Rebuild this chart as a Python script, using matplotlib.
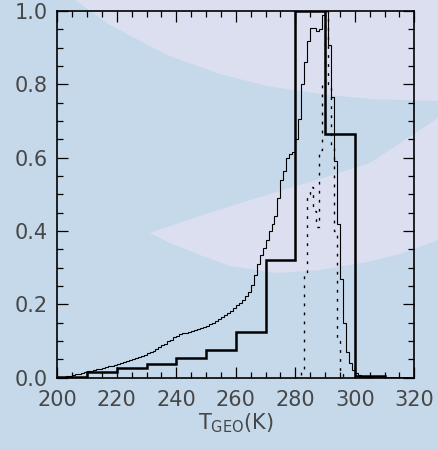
import numpy as np
import matplotlib
matplotlib.use("Agg")
import matplotlib.pyplot as plt
from matplotlib.patches import Polygon
from matplotlib.ticker import MultipleLocator

# ---------------- data ----------------
thick_edges = np.arange(200, 321, 10)
thick_vals = [0.003, 0.016, 0.027, 0.038, 0.054, 0.076, 0.125, 0.321, 1.0, 0.664, 0.005, 0.0]

thin_edges = np.arange(200, 321, 1)
thin_vals = [
    0.001, 0.002, 0.003, 0.004, 0.005, 0.007, 0.009, 0.011, 0.013, 0.015,
    0.017, 0.019, 0.021, 0.023, 0.025, 0.027, 0.029, 0.031, 0.033, 0.035,
    0.037, 0.040, 0.043, 0.045, 0.048, 0.051, 0.053, 0.056, 0.060, 0.063,
    0.066, 0.070, 0.074, 0.078, 0.083, 0.088, 0.093, 0.099, 0.104, 0.110,
    0.115, 0.118, 0.121, 0.123, 0.125, 0.127, 0.129, 0.132, 0.135, 0.139,
    0.142, 0.146, 0.150, 0.155, 0.160, 0.165, 0.170, 0.176, 0.183, 0.191,
    0.198, 0.205, 0.213, 0.222, 0.235, 0.252, 0.280, 0.310, 0.335, 0.355,
    0.375, 0.400, 0.420, 0.440, 0.490, 0.540, 0.565, 0.600, 0.610, 0.615,
    0.650, 0.705, 0.800, 0.860, 0.918, 0.955, 0.955, 0.945, 0.950, 0.990,
    1.000, 0.907, 0.766, 0.590, 0.420, 0.270, 0.150, 0.070, 0.040, 0.020,
    0.012, 0.008, 0.005, 0.003, 0.002, 0.001, 0.0, 0.0, 0.0, 0.0,
    0.0, 0.0, 0.0, 0.0, 0.0, 0.0, 0.0, 0.0, 0.0, 0.0,
]

dot_edges = np.arange(280, 298, 1)
dot_vals = [0.0, 0.003, 0.02, 0.285, 0.50, 0.52, 0.455, 0.41, 0.62, 0.80,
            1.0, 0.80, 0.63, 0.40, 0.10, 0.01, 0.0]

xticks = [200, 220, 240, 260, 280, 300, 320]
yticks = [0.0, 0.2, 0.4, 0.6, 0.8, 1.0]

# ---------------- style ----------------
BLUE = "#c6d9eb"
LAV = "#dcdff0"
FONT = "DejaVu Sans"
TXT = "#474747"

plt.rcParams["font.family"] = [FONT]
plt.rcParams["mathtext.fontset"] = "custom"
plt.rcParams["mathtext.rm"] = FONT
plt.rcParams["mathtext.it"] = FONT

W, H = 438, 450
fig = plt.figure(figsize=(W / 100, H / 100), dpi=100, facecolor=BLUE)

# background swooshes (figure pixel coords, y from top)
def pix(pts):
    return [(x / W, 1 - y / H) for x, y in pts]

upper = [(75, 0), (110, 25), (167, 55), (220, 74), (267, 86), (320, 94), (370, 99), (438, 101), (438, 0)]
lower = [(150, 233), (200, 216), (250, 200), (310, 182), (370, 163), (438, 118),
         (438, 240), (400, 254), (367, 262), (320, 270), (277, 273), (230, 266), (200, 255), (170, 243)]
for poly in (upper, lower):
    fig.add_artist(Polygon(pix(poly), closed=True, transform=fig.transFigure,
                           facecolor=LAV, edgecolor="none", zorder=0))

ax = fig.add_axes([57.3 / W, 1 - 377.7 / H, (414.3 - 57.3) / W, (377.7 - 11) / H])
ax.set_facecolor("none")
ax.set_zorder(2)

ax.stairs(thin_vals, thin_edges, color="black", lw=0.8)
ax.stairs(dot_vals, dot_edges, color="black", lw=1.0, linestyle=(0, (2, 4.5)))
ax.stairs(thick_vals, thick_edges, color="black", lw=1.8)

ax.set_xlim(200, 320)
ax.set_ylim(0, 1.0)
ax.set_xticks(xticks)
ax.set_xticklabels([str(t) for t in xticks])
ax.set_yticks(yticks)
ax.set_yticklabels([f"{t:.1f}" for t in yticks])
ax.xaxis.set_minor_locator(MultipleLocator(5))
ax.yaxis.set_minor_locator(MultipleLocator(0.05))
ax.tick_params(which="both", direction="in", top=True, right=True, width=0.9, colors="black")
ax.tick_params(which="major", length=8)
ax.tick_params(which="minor", length=4)
ax.tick_params(axis="x", which="major", pad=9, labelsize=15, labelcolor=TXT)
ax.tick_params(axis="y", which="major", pad=7, labelsize=15, labelcolor=TXT)
for s in ax.spines.values():
    s.set_linewidth(1.2)

ax.set_xlabel(r"T$_{\mathrm{GEO}}$(K)", fontsize=15, color=TXT, labelpad=1)

fig.savefig("out.png", dpi=100, facecolor=BLUE)
